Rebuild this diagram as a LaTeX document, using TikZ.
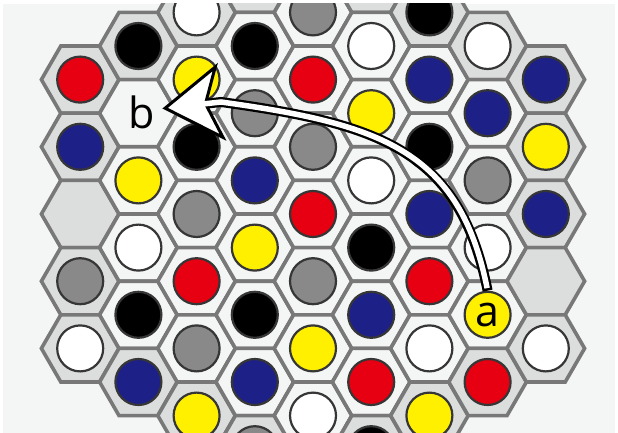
\documentclass[tikz,border=0pt]{standalone}
\usepackage{fontspec}
\setsansfont{Open Sans}
\usetikzlibrary{arrows.meta,calc}

\definecolor{bgcol}{HTML}{F4F5F5}
\definecolor{rimcol}{HTML}{DCDDDD}
\definecolor{hexline}{HTML}{787878}
\definecolor{pieceline}{HTML}{363636}
\definecolor{pred}{HTML}{E60012}
\definecolor{pyellow}{HTML}{FFF000}
\definecolor{pblue}{HTML}{1D2087}
\definecolor{pgray}{HTML}{898989}
\definecolor{pblack}{HTML}{000000}
\definecolor{pwhite}{HTML}{FFFFFF}
\def\nopiece{none}

\tikzset{
  cell/.style={draw=hexline, line width=3.6pt},
  piece/.style={draw=pieceline, line width=2.2pt},
  lbl/.style={font=\sffamily\fontsize{43}{43}\selectfont, inner sep=0pt}
}

\begin{document}
\begin{tikzpicture}[x=1pt, y=-1pt]
    \useasboundingbox (0,0) rectangle (618,433);
    \fill[white] (0,0) rectangle (618,433);

    \begin{scope}
    \clip (3,4) rectangle (615,433);
    \fill[bgcol] (3,4) rectangle (615,433);
    \foreach \q/\cols in {
        -4/{pred,pblue,none,pgray,pwhite},
        -3/{pblack,none,pyellow,pwhite,pblack,pblue},
        -2/{pwhite,pyellow,pblack,pgray,pred,pgray,pyellow},
        -1/{none,pblack,pgray,pblue,pyellow,pblack,pblue,pgray},
        0/{none,pgray,pred,pgray,pred,pgray,pyellow,pwhite,none},
        1/{none,pwhite,pyellow,pwhite,pblack,pblue,pred,pblack},
        2/{pblack,pblue,pblack,pblue,pred,pwhite,pyellow},
        3/{pwhite,pblue,pgray,pwhite,pyellow,pred},
        4/{pblue,pyellow,pblue,none,pwhite}}{
        \pgfmathtruncatemacro{\n}{9-abs(\q)}
        \foreach \c [count=\r from 0] in \cols {
            \pgfmathsetmacro{\x}{313+58.2*(\q)}
            \pgfmathsetmacro{\y}{214+67.2*(\r-(\n-1)/2)}
            \pgfmathtruncatemacro{\rim}{(\r==0)||(\r==\n-1)||(abs(\q)==4)}
            \ifnum\rim=1 \def\hexfill{rimcol}\else\def\hexfill{bgcol}\fi
            \draw[cell, fill=\hexfill, shift={(\x,\y)}]
                (0:38.8) -- (60:38.8) -- (120:38.8) -- (180:38.8)
                -- (240:38.8) -- (300:38.8) -- cycle;
            \edef\tmp{\c}
            \ifx\tmp\nopiece\else
                \filldraw[piece, fill=\c] (\x,\y) circle (23pt);
            \fi
        }
    }
    \end{scope}

    \node[lbl, circle, minimum size=48pt] (a) at (487.6,314.8) {a};
    \node[lbl] (b) at (142,112) {b};
    \coordinate (bk) at (221,102);

    \draw[line width=10pt, -{Stealth[length=60pt, width=78pt, inset=15pt, fill=white, line width=3pt]}]
        (a.north) .. controls +(-28,-140) and +(160,22) .. (bk) -- ([xshift=7pt, yshift=3.5pt]b.east);
    \draw[white, line width=5.5pt, shorten <=2.5pt]
        (a.north) .. controls +(-28,-140) and +(160,22) .. (bk) -- ($(bk)!0.3!([xshift=7pt, yshift=3.5pt]b.east)$);
\end{tikzpicture}
\end{document}
